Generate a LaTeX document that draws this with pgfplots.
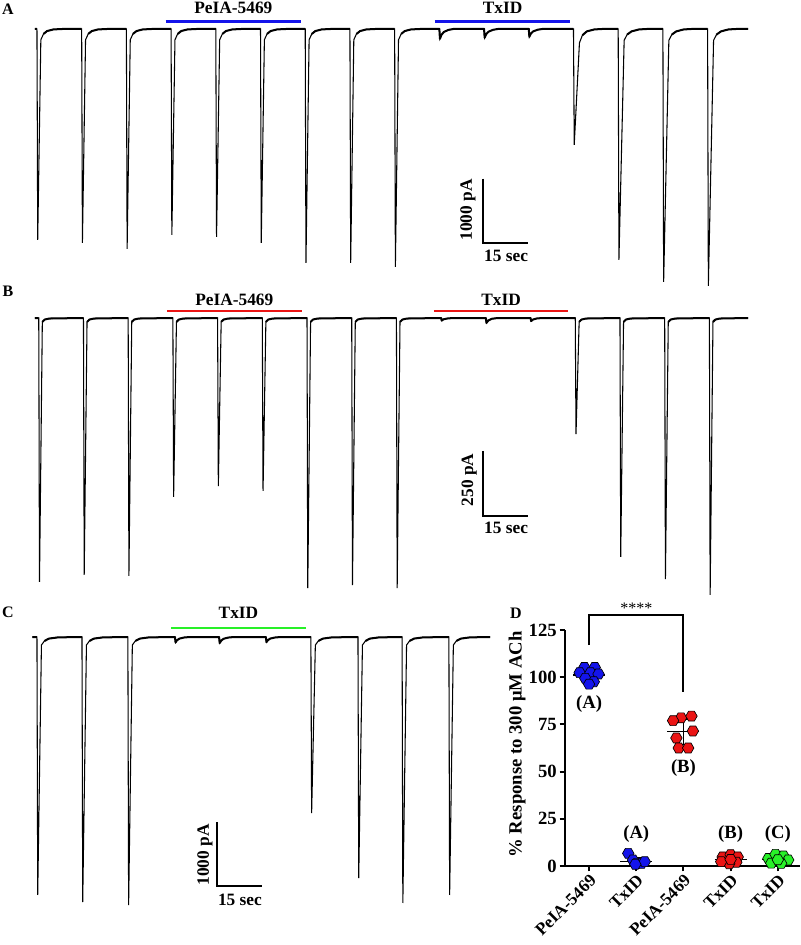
\documentclass[border=0pt]{standalone}
\usepackage{fontspec}
\setmainfont{Liberation Serif}
\usepackage{pgfplots}
\pgfplotsset{compat=1.18}
\definecolor{myblue}{RGB}{20,20,235}
\definecolor{myred}{RGB}{235,20,20}
\definecolor{mygreen}{RGB}{40,240,40}
\newcommand{\fT}{\fontsize{13}{15}\selectfont\bfseries}
\newcommand{\fD}{\fontsize{14}{16}\selectfont\bfseries}
\newcommand{\fL}{\fontsize{12}{14}\selectfont\bfseries}
\pgfdeclareplotmark{hexagon}{%
 \pgfpathmoveto{\pgfpointpolar{0}{\pgfplotmarksize}}%
 \pgfpathlineto{\pgfpointpolar{60}{\pgfplotmarksize}}%
 \pgfpathlineto{\pgfpointpolar{120}{\pgfplotmarksize}}%
 \pgfpathlineto{\pgfpointpolar{180}{\pgfplotmarksize}}%
 \pgfpathlineto{\pgfpointpolar{240}{\pgfplotmarksize}}%
 \pgfpathlineto{\pgfpointpolar{300}{\pgfplotmarksize}}%
 \pgfpathclose\pgfusepathqfillstroke}
\pgfplotsset{trace/.style={scale only axis, width=600pt, xmin=-12.4, xmax=256,
  axis lines=none, clip=false, anchor=north west},
  base/.style={black, line width=1.5pt, line join=round, unbounded coords=jump}}
\begin{document}
\begin{tikzpicture}
\useasboundingbox (0,0) rectangle (600pt,-708.75pt);
% ---------------- Panel A ----------------
\begin{axis}[trace, at={(0pt,0pt)}, height=217.44pt, ymin=-4080, ymax=450]
\addplot[black, line width=0.8pt] coordinates {
(-0.7,0) (0,0) (0.25,-3297) (1.3,-172) (2.2,-80) (3.4,-35) (5.5,-10) (9,-2)
(15,0) (15.25,-3344) (16.3,-172) (17.2,-80) (18.4,-35) (20.5,-10) (24,-2)
(30,0) (30.25,-3438) (31.3,-172) (32.2,-80) (33.4,-35) (35.5,-10) (39,-2)
(45,0) (45.25,-3219) (46.3,-172) (47.2,-80) (48.4,-35) (50.5,-10) (54,-2)
(60,0) (60.25,-3250) (61.3,-172) (62.2,-80) (63.4,-35) (65.5,-10) (69,-2)
(75,0) (75.25,-3344) (76.3,-172) (77.2,-80) (78.4,-35) (80.5,-10) (84,-2)
(90,0) (90.25,-3656) (91.3,-172) (92.2,-80) (93.4,-35) (95.5,-10) (99,-2)
(105,0) (105.25,-3656) (106.3,-172) (107.2,-80) (108.4,-35) (110.5,-10) (114,-2)
(120,0) (120.25,-3719) (121.3,-172) (122.2,-80) (123.4,-35) (125.5,-10) (129,-2)
(135,0) (135.2,-156) (135.7,-95) (136.5,-50) (138,-18) (140,0)
(150,0) (150.2,-140) (150.7,-85) (151.5,-45) (153,-16) (155,0)
(165,0) (165.2,-125) (165.7,-75) (166.5,-40) (168,-14) (170,0)
(180,0) (180.25,-1813) (182.0,-220) (183.0,-100) (184.5,-40) (187,-10) (190,-2)
(195,0) (195.25,-3609) (197.0,-180) (198.0,-90) (199.5,-40) (202,-10) (205,-2)
(210,0) (210.25,-3953) (212.0,-180) (213.0,-90) (214.5,-40) (217,-10) (220,-2)
(225,0) (225.25,-4016) (227.0,-180) (228.0,-90) (229.5,-40) (232,-10) (235,-2) (238.6,0)
};
\addplot[base] coordinates {
(-0.7,0)(0,0)(0,nan)
(2.2,-80)(3.4,-35)(5.5,-10)(9,-2)(15,0)(15,nan)
(17.2,-80)(18.4,-35)(20.5,-10)(24,-2)(30,0)(30,nan)
(32.2,-80)(33.4,-35)(35.5,-10)(39,-2)(45,0)(45,nan)
(47.2,-80)(48.4,-35)(50.5,-10)(54,-2)(60,0)(60,nan)
(62.2,-80)(63.4,-35)(65.5,-10)(69,-2)(75,0)(75,nan)
(77.2,-80)(78.4,-35)(80.5,-10)(84,-2)(90,0)(90,nan)
(92.2,-80)(93.4,-35)(95.5,-10)(99,-2)(105,0)(105,nan)
(107.2,-80)(108.4,-35)(110.5,-10)(114,-2)(120,0)(120,nan)
(122.2,-80)(123.4,-35)(125.5,-10)(129,-2)(135,0)(135.2,-156)(135.7,-95)(136.5,-50)(138,-18)(140,0)
(150,0)(150.2,-140)(150.7,-85)(151.5,-45)(153,-16)(155,0)
(165,0)(165.2,-125)(165.7,-75)(166.5,-40)(168,-14)(170,0)(180,0)(180,nan)
(183.0,-100)(184.5,-40)(187,-10)(190,-2)(195,0)(195,nan)
(198.0,-90)(199.5,-40)(202,-10)(205,-2)(210,0)(210,nan)
(213.0,-90)(214.5,-40)(217,-10)(220,-2)(225,0)(225,nan)
(228.0,-90)(229.5,-40)(232,-10)(235,-2)(238.6,0)
};
\addplot[myblue, line width=2pt] coordinates {(43.2,109) (88.6,109)};
\addplot[myblue, line width=2pt] coordinates {(133.5,109) (178.8,109)};
\node[font=\fT, anchor=base] at (axis cs:65.9,245) {PeIA-5469};
\node[font=\fT, anchor=base] at (axis cs:156.2,245) {TxID};
\addplot[black, line width=1.5pt] coordinates {(149.7,-2340) (149.7,-3340) (164.7,-3340)};
\node[font=\fT, rotate=90] at (axis cs:144.6,-2828) {1000 pA};
\node[font=\fT] at (axis cs:157.4,-3547) {15 sec};
\end{axis}
% ---------------- Panel B ----------------
\begin{axis}[trace, at={(0pt,-214.15pt)}, height=235.71pt, ymin=-1085, ymax=125]
\addplot[black, line width=0.8pt] coordinates {
(-0.66,0)
(0.6,0)(0.85,-1016)(1.8,-15)(2.6,-6)(4.1,-2)
(15.6,0)(15.85,-989)(16.8,-15)(17.6,-6)(19.1,-2)
(30.6,0)(30.85,-993)(31.8,-15)(32.6,-6)(34.1,-2)
(45.6,0)(45.85,-689)(46.8,-15)(47.6,-6)(49.1,-2)
(60.6,0)(60.85,-647)(61.8,-15)(62.6,-6)(64.1,-2)
(75.6,0)(75.85,-666)(76.8,-15)(77.6,-6)(79.1,-2)
(90.6,0)(90.85,-1040)(91.8,-15)(92.6,-6)(94.1,-2)
(105.6,0)(105.85,-1028)(106.8,-15)(107.6,-6)(109.1,-2)
(120.6,0)(120.85,-1040)(121.8,-15)(122.6,-6)(124.1,-2)
(135.6,0)(135.8,-10)(136.4,-5)(137.6,-2)(139.6,0)
(150.6,0)(150.8,-19)(151.4,-10)(152.6,-3)(154.6,0)
(165.6,0)(165.8,-12)(166.4,-6)(167.6,-2)(169.6,0)
(180.6,0)(180.85,-447)(181.9,-15)(182.7,-6)(184.2,-2)
(195.6,0)(195.85,-920)(196.8,-15)(197.6,-6)(199.1,-2)
(210.6,0)(210.85,-1005)(211.8,-15)(212.6,-6)(214.1,-2)
(225.6,0)(225.85,-1066)(226.8,-15)(227.6,-6)(229.1,-2)
(238.6,0)
};
\addplot[base] coordinates {
(-0.66,0)(0.6,0)(0.6,nan)
(1.8,-15)(2.6,-6)(4.1,-2)(15.6,0)(15.6,nan)
(16.8,-15)(17.6,-6)(19.1,-2)(30.6,0)(30.6,nan)
(31.8,-15)(32.6,-6)(34.1,-2)(45.6,0)(45.6,nan)
(46.8,-15)(47.6,-6)(49.1,-2)(60.6,0)(60.6,nan)
(61.8,-15)(62.6,-6)(64.1,-2)(75.6,0)(75.6,nan)
(76.8,-15)(77.6,-6)(79.1,-2)(90.6,0)(90.6,nan)
(91.8,-15)(92.6,-6)(94.1,-2)(105.6,0)(105.6,nan)
(106.8,-15)(107.6,-6)(109.1,-2)(120.6,0)(120.6,nan)
(121.8,-15)(122.6,-6)(124.1,-2)(135.6,0)(135.8,-10)(136.4,-5)(137.6,-2)(139.6,0)
(150.6,0)(150.8,-19)(151.4,-10)(152.6,-3)(154.6,0)
(165.6,0)(165.8,-12)(166.4,-6)(167.6,-2)(169.6,0)(180.6,0)(180.6,nan)
(181.9,-15)(182.7,-6)(184.2,-2)(195.6,0)(195.6,nan)
(196.8,-15)(197.6,-6)(199.1,-2)(210.6,0)(210.6,nan)
(211.8,-15)(212.6,-6)(214.1,-2)(225.6,0)(225.6,nan)
(226.8,-15)(227.6,-6)(229.1,-2)(238.6,0)
};
\addplot[myred, line width=2pt] coordinates {(43.6,27) (88.9,27)};
\addplot[myred, line width=2pt] coordinates {(133.2,27) (178.2,27)};
\node[font=\fT, anchor=base] at (axis cs:66.2,50) {PeIA-5469};
\node[font=\fT, anchor=base] at (axis cs:155.7,50) {TxID};
\addplot[black, line width=1.5pt] coordinates {(149.7,-512) (149.7,-762) (164.7,-762)};
\node[font=\fT, rotate=90] at (axis cs:145,-624) {250 pA};
\node[font=\fT] at (axis cs:157.4,-808) {15 sec};
\end{axis}
% ---------------- Panel C ----------------
\begin{axis}[trace, at={(0pt,-446.55pt)}, height=251.04pt, ymin=-4580, ymax=650]
\addplot[black, line width=0.8pt] coordinates {
(-1.5,0)
(0,0)(0.25,-4031)(1.5,-125)(2.5,-62)(4,-25)(7,-6)
(15.1,0)(15.35,-4141)(16.6,-125)(17.6,-62)(19.1,-25)(22.1,-6)
(30.5,0)(30.75,-4188)(32.0,-125)(33.0,-62)(34.5,-25)(37.5,-6)
(46.3,0)(46.5,-85)(47.0,-50)(47.8,-25)(49.3,-8)(51.3,0)
(61.1,0)(61.3,-95)(61.8,-57)(62.6,-28)(64.1,-9)(66.1,0)
(76.8,0)(77.0,-80)(77.5,-48)(78.3,-24)(79.8,-8)(81.8,0)
(91.9,0)(92.15,-2750)(93.4,-125)(94.4,-62)(95.9,-25)(98.9,-6)
(107.7,0)(107.95,-3766)(109.2,-125)(110.2,-62)(111.7,-25)(114.7,-6)
(122.5,0)(122.75,-4156)(124.0,-125)(125.0,-62)(126.5,-25)(129.5,-6)
(138.2,0)(138.45,-4031)(139.7,-125)(140.7,-62)(142.2,-25)(145.2,-6)
(152,0)
};
\addplot[base] coordinates {
(-1.5,0)(0,0)(0,nan)
(2.5,-62)(4,-25)(7,-6)(15.1,0)(15.1,nan)
(17.6,-62)(19.1,-25)(22.1,-6)(30.5,0)(30.5,nan)
(33.0,-62)(34.5,-25)(37.5,-6)(46.3,0)(46.5,-85)(47.0,-50)(47.8,-25)(49.3,-8)(51.3,0)
(61.1,0)(61.3,-95)(61.8,-57)(62.6,-28)(64.1,-9)(66.1,0)
(76.8,0)(77.0,-80)(77.5,-48)(78.3,-24)(79.8,-8)(81.8,0)(91.9,0)(91.9,nan)
(94.4,-62)(95.9,-25)(98.9,-6)(107.7,0)(107.7,nan)
(110.2,-62)(111.7,-25)(114.7,-6)(122.5,0)(122.5,nan)
(125.0,-62)(126.5,-25)(129.5,-6)(138.2,0)(138.2,nan)
(140.7,-62)(142.2,-25)(145.2,-6)(152,0)
};
\addplot[mygreen, line width=2pt] coordinates {(45.0,141) (90.3,141)};
\node[font=\fT, anchor=base] at (axis cs:67.6,297) {TxID};
\addplot[black, line width=1.5pt] coordinates {(60.4,-2891) (60.4,-3891) (75.4,-3891)};
\node[font=\fT, rotate=90] at (axis cs:56.4,-3406) {1000 pA};
\node[font=\fT] at (axis cs:68.1,-4109) {15 sec};
\end{axis}
% ---------------- Panel D ----------------
\begin{axis}[scale only axis, width=176.25pt, height=177pt, at={(423.75pt,-649.5pt)},
  anchor=south west, xmin=0.49, xmax=5.47, ymin=0, ymax=125, clip=false,
  axis x line*=bottom, axis y line*=left, axis line style={line width=1.5pt},
  every tick/.style={black, line width=1.5pt}, tick align=outside, major tick length=4pt,
  ytick={0,25,50,75,100,125}, xtick={1,2,3,4,5},
  xticklabels={PeIA-5469,TxID,PeIA-5469,TxID,TxID},
  xticklabel style={rotate=45, anchor=north east, font=\fT, inner sep=1pt},
  yticklabel style={font=\fD, inner sep=2pt},
  /pgf/number format/assume math mode=true,
  ylabel={\% Response to 300 μM ACh},
  ylabel style={font=\fD, at={(axis description cs:-0.204,0.515)}, anchor=center}]
\addplot[only marks, mark=hexagon, mark size=4.3pt, mark options={fill=myblue, draw=black, line width=0.5pt}]
 coordinates {(0.9,105.2)(1.12,105.2)(0.8,102.4)(1.03,102.4)(1.2,101.7)(0.92,99.4)(1.1,97.6)(1.0,96.3)};
\addplot[only marks, mark=hexagon, mark size=4.3pt, mark options={fill=myblue, draw=black, line width=0.5pt}]
 coordinates {(1.83,6.7)(1.93,3.2)(2.01,1.4)(2.11,1.4)(2.18,2.3)(1.98,0.9)};
\addplot[only marks, mark=hexagon, mark size=4.3pt, mark options={fill=myred, draw=black, line width=0.5pt}]
 coordinates {(2.95,78.5)(3.17,79.4)(2.78,77)(3.2,71.5)(2.85,67.8)(2.9,62.5)(3.1,62.5)};
\addplot[only marks, mark=hexagon, mark size=4.3pt, mark options={fill=myred, draw=black, line width=0.5pt}]
 coordinates {(3.83,4.8)(4.0,6.0)(4.15,4.8)(4.12,2.0)(3.97,1.2)(3.8,2.3)(4.0,3.5)};
\addplot[only marks, mark=hexagon, mark size=4.3pt, mark options={fill=mygreen, draw=black, line width=0.5pt}]
 coordinates {(4.8,4.0)(4.95,6.2)(5.12,5.3)(5.22,3.2)(5.07,1.4)(4.86,1.5)(5.0,3.3)};
% mean and SD
\addplot[black, line width=1.3pt, unbounded coords=jump] coordinates {
(0.66,101.2)(1.34,101.2)(1,nan)(1,97.8)(1,104.6)(1,nan)(0.85,104.6)(1.15,104.6)(1,nan)(0.85,97.8)(1.15,97.8)(1,nan)
(1.66,2.4)(2.34,2.4)(2,nan)(2,0.4)(2,4.4)(2,nan)(1.85,4.4)(2.15,4.4)(2,nan)
(2.66,71.2)(3.34,71.2)(3,nan)(3,64.4)(3,78)(3,nan)(2.85,78)(3.15,78)(3,nan)(2.85,64.4)(3.15,64.4)(3,nan)
(3.66,3.5)(4.34,3.5)(4,nan)(4,1.7)(4,5.3)(4,nan)(3.85,5.3)(4.15,5.3)(4,nan)(3.85,1.7)(4.15,1.7)(4,nan)
(4.66,3.5)(5.34,3.5)(5,nan)(5,1.7)(5,5.3)(5,nan)(4.85,5.3)(5.15,5.3)(5,nan)(4.85,1.7)(5.15,1.7)
};
\addplot[black, line width=1.5pt] coordinates {(1,117)(1,133)(3,133)(3,92)};
\node[font=\fontsize{12}{14}\selectfont, anchor=base] at (axis cs:2,134) {****};
\node[font=\fD] at (axis cs:1,85.8) {(A)};
\node[font=\fD] at (axis cs:3,51.9) {(B)};
\node[font=\fD] at (axis cs:2,17) {(A)};
\node[font=\fD] at (axis cs:4,17) {(B)};
\node[font=\fD] at (axis cs:5,17) {(C)};
\end{axis}
% panel letters
\node[font=\fL] at (6pt,-6.75pt) {A};
\node[font=\fL] at (6pt,-218.25pt) {B};
\node[font=\fL] at (6pt,-459pt) {C};
\node[font=\fL] at (387pt,-459.75pt) {D};
\end{tikzpicture}
\end{document}
